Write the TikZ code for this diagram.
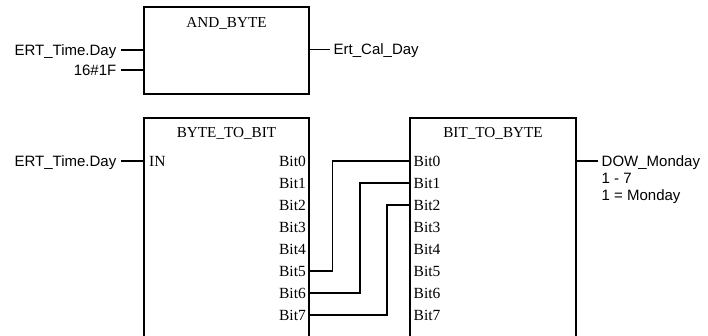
\documentclass[tikz,border=0pt]{standalone}
\usepackage{fontspec}
\setmainfont{Liberation Serif}
\newfontfamily\signalfont{Liberation Sans}
\usetikzlibrary{calc}

\begin{document}
\begin{tikzpicture}[x=1pt,y=-1pt,
  fblock/.style={draw, rectangle, line width=1.9pt, inner sep=0pt, outer sep=0pt,
                 anchor=north west, minimum width=166pt},
  wire/.style={line width=1.9pt},
  blocktitle/.style={font=\fontsize{15.2}{17}\selectfont, inner sep=0pt},
  pinname/.style={font=\fontsize{15.5}{17}\selectfont, inner sep=0pt, yshift=-5.1pt},
  signal/.style={font=\signalfont\fontsize{15}{17}\selectfont, inner sep=0pt, yshift=-5.3pt},
  sigin/.style={signal, anchor=base east},
  sigout/.style={signal, anchor=base west}]
\useasboundingbox (0,0) rectangle (708,336);
\clip (0,0) rectangle (708,336);

% ---- AND_BYTE ----
\node[fblock, minimum width=165pt, minimum height=87pt] (andb) at (144,7) {};
\node[blocktitle] (andt) at ($(andb.north)+(0,16)$) {AND\_BYTE};
\coordinate (and-i1) at ($(andb.north west)+(0,43)$);
\coordinate (and-i2) at ($(andb.north west)+(0,63)$);
\coordinate (and-o)  at ($(andb.north east)+(0,42.5)$);
\coordinate (and-i1e) at ($(and-i1)+(-23,0)$);
\coordinate (and-i2e) at ($(and-i2)+(-23,0)$);
\coordinate (and-oe)  at ($(and-o)+(21,0)$);
\draw[wire] (and-i1e) -- (and-i1);
\draw[wire] (and-i2e) -- (and-i2);
\draw[wire] (and-o) -- (and-oe);
\node[sigin]  (sday1) at ($(and-i1e)+(-4.5,0)$) {ERT\_Time.Day};
\node[sigin]  (s1f)   at ($(and-i2e)+(-4.5,0)$) {16\#1F};
\node[sigout] (scal)  at ($(and-oe)+(3.5,0)$) {Ert\_Cal\_Day};

% ---- BYTE_TO_BIT ----
\node[fblock, minimum width=165pt, minimum height=240pt] (btb) at (144,118) {};
\node[blocktitle] (btbt) at ($(btb.north)+(0,15)$) {BYTE\_TO\_BIT};
\coordinate (btb-in) at ($(btb.north west)+(0,43)$);
\node[pinname, anchor=base west] (btb-inl) at ($(btb-in)+(5,0)$) {IN};
\coordinate (btb-ine) at ($(btb-in)+(-23,0)$);
\draw[wire] (btb-ine) -- (btb-in);
\node[sigin] (sday2) at ($(btb-ine)+(-4.5,0)$) {ERT\_Time.Day};

% ---- BIT_TO_BYTE ----
\node[fblock, minimum width=166pt, minimum height=240pt] (bty) at (410,118) {};
\node[blocktitle] (btyt) at ($(bty.north)+(0,15)$) {BIT\_TO\_BYTE};
\coordinate (bty-o) at ($(bty.north east)+(0,43)$);
\coordinate (bty-oe) at ($(bty-o)+(22,0)$);
\draw[wire] (bty-o) -- (bty-oe);
\node[sigout] (sdow) at ($(bty-oe)+(3.5,0)$) {DOW\_Monday};
\node[sigout] (sn1) at ($(bty-oe)+(3.5,17)$) {1 - 7};
\node[sigout] (sn2) at ($(bty-oe)+(3.5,34)$) {1 = Monday};

% bit pins of both converters
\foreach \i in {0,...,7} {
  \coordinate (bo\i) at ($(btb.north east)+(0,{43+22*\i})$);
  \coordinate (bi\i) at ($(bty.north west)+(0,{43+22*\i})$);
  \node[pinname, anchor=base east] (bol\i) at ($(bo\i)+(-3,0)$) {Bit\i};
  \node[pinname, anchor=base west] (bil\i) at ($(bi\i)+(3.5,0)$) {Bit\i};
}

% wiring Bit5..Bit7 onto Bit0..Bit2
\draw[wire] (bo5) -| ($(bo5)+(23.5,0)$) |- (bi0);
\draw[wire] (bo6) -| ($(bo6)+(51,0)$) |- (bi1);
\draw[wire] (bo7) -| ($(bo7)+(78,0)$) |- (bi2);
\end{tikzpicture}
\end{document}
